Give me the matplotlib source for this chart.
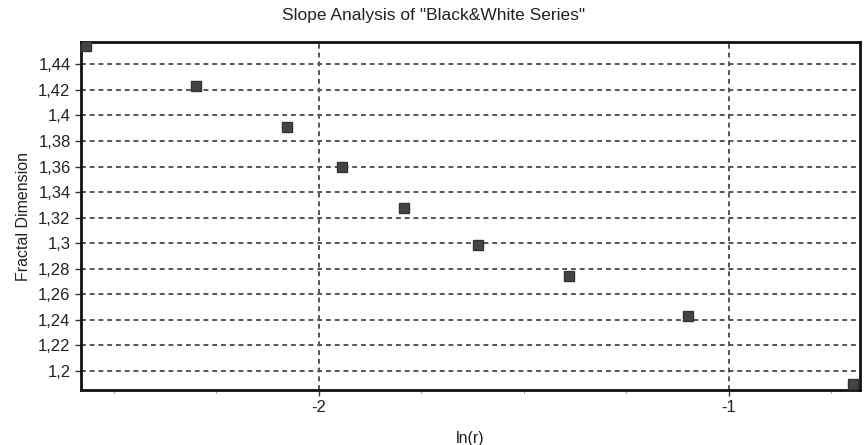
import numpy as np
import matplotlib.pyplot as plt
from matplotlib.ticker import MultipleLocator, FuncFormatter

plt.switch_backend('agg')
plt.rcParams['font.family'] = ['Liberation Sans', 'DejaVu Sans']
plt.rcParams['axes.unicode_minus'] = False

# data
ln_r = [-2.568, -2.300, -2.078, -1.944, -1.793, -1.612, -1.390, -1.100, -0.698]
fractal_dim = [1.454, 1.4234, 1.3909, 1.3596, 1.3275, 1.2986, 1.2743, 1.243, 1.1898]

fig = plt.figure(figsize=(8.67, 4.45), dpi=100)
ax = fig.add_axes([0.0934, 0.1236, 0.8986, 0.782])

ax.plot(ln_r, fractal_dim, linestyle='none', marker='s', markersize=7,
        color='#444444', markeredgecolor='#333333', zorder=3)

ax.set_xlim(-2.580, -0.680)
ax.set_ylim(1.185, 1.4575)

ax.xaxis.set_major_locator(MultipleLocator(1))
ax.xaxis.set_minor_locator(MultipleLocator(0.25))
ax.yaxis.set_major_locator(MultipleLocator(0.02))

ax.yaxis.set_major_formatter(FuncFormatter(lambda v, p: f"{round(v, 2):g}".replace('.', ',')))
ax.xaxis.set_major_formatter(FuncFormatter(lambda v, p: f"{v:g}"))

ax.grid(True, which='major', linestyle=(0, (2.5, 2)), color='#555555', linewidth=1.4)
ax.set_axisbelow(True)

ax.tick_params(axis='both', which='major', labelsize=12, length=4, width=1, colors='#333333')
ax.tick_params(axis='both', which='minor', length=2, width=0.8, colors='#888888')
for lab in ax.get_xticklabels() + ax.get_yticklabels():
    lab.set_color('#222222')

for s in ax.spines.values():
    s.set_linewidth(2)
    s.set_color('#111111')

fig.text(0.5, 0.965, 'Slope Analysis of "Black&White Series"', fontsize=12.5,
         color='#222222', ha='center', va='center')
ax.set_xlabel('ln(r)', fontsize=11.5, color='#222222', labelpad=11)
ax.set_ylabel('Fractal Dimension', fontsize=11.5, color='#222222', labelpad=5)

fig.savefig('out.png', dpi=100)
